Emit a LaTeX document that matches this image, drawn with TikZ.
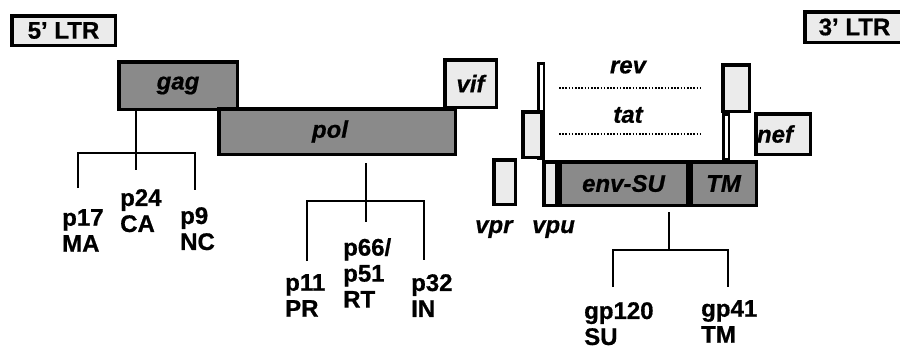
\documentclass[tikz,border=0pt]{standalone}
\usepackage{fontspec}
\setmainfont{Liberation Sans}[BoldFeatures={FakeBold=0.7},BoldItalicFeatures={FakeBold=0.7}]
\definecolor{darkfill}{HTML}{8A8A8A}
\definecolor{lightfill}{HTML}{EBEBEB}
\begin{document}
\begin{tikzpicture}[x=1pt,y=-1pt,
  gene/.style={draw=black, line width=3.5pt, inner sep=0pt,
    font=\fontsize{24}{26}\selectfont\bfseries\itshape},
  darkbox/.style={gene, fill=darkfill},
  lightbox/.style={gene, fill=lightfill},
  ltrbox/.style={gene, fill=lightfill, font=\fontsize{24}{26}\selectfont\bfseries},
  thinbox/.style={draw=black, line width=2.5pt, fill=white, inner sep=0pt},
  tree/.style={line width=2.2pt},
  prot/.style={anchor=north west, inner sep=0pt, align=left,
    font=\fontsize{24}{26}\selectfont\bfseries},
  exonlabel/.style={inner sep=0pt, font=\fontsize{24}{26}\selectfont\bfseries\itshape},
  splice/.style={line width=2.6pt, dash pattern=on 1.6pt off 1.6pt}]
\useasboundingbox (0,0) rectangle (900,349);

% LTRs
\node[ltrbox, minimum width=103.5pt, minimum height=29.5pt] (ltr5) at (63.5,30.5) {5' LTR};
\node[ltrbox, minimum width=99.5pt, minimum height=30.5pt] (ltr3) at (854.5,27) {3' LTR};

% gag, pol, vif
\node[darkbox, minimum width=118.5pt, minimum height=47.5pt] (gag) at (178,85.5) {gag};
\node[darkbox, minimum width=236.5pt, minimum height=45.5pt] (pol) at (337,131.5) {\hspace*{-14pt}pol};
\node[lightbox, minimum width=51.5pt, minimum height=47.5pt] (vif) at (470.5,83.5) {vif};

% rev / tat first exons
\node[thinbox, minimum width=5.5pt, minimum height=95.5pt] (rev1) at (541,111) {};
\node[lightbox, minimum width=18.5pt, minimum height=45.5pt] (tat1) at (532,134.5) {};

% vpr, vpu, env
\node[lightbox, minimum width=21.5pt, minimum height=44.5pt] (vpr) at (504.5,182) {};
\node[lightbox, minimum width=12.5pt, minimum height=43.5pt] (vpu) at (550,183.5) {};
\node[darkbox, minimum width=127.5pt, minimum height=43.5pt] (envsu) at (623.5,183.5) {env-SU};
\node[darkbox, minimum width=65.5pt, minimum height=43.5pt] (tm) at (723.5,183.5) {TM};

% rev / tat second exons, nef
\node[thinbox, minimum width=5.5pt, minimum height=44.5pt] (tat2) at (726,136.5) {};
\node[lightbox, minimum width=26.5pt, minimum height=46.5pt] (rev2) at (736,88) {};
\node[lightbox, minimum width=54.5pt, minimum height=40.5pt] (nef) at (783,134) {\hspace*{-16pt}nef};

% splicing labels
\node[exonlabel] (revlab) at (628,67) {rev};
\node[exonlabel] (tatlab) at (628,115) {tat};
\coordinate (revA) at (559,88);
\coordinate (revB) at (702,88);
\coordinate (tatA) at (559,134);
\coordinate (tatB) at (700,134);
\draw[splice] (revA) -- (revB);
\draw[splice] (tatA) -- (tatB);

\node[exonlabel, anchor=base west] (vprlab) at (475,233) {vpr};
\node[exonlabel, anchor=base west] (vpulab) at (532,233) {vpu};

% gag products
\coordinate (gM) at (136,170);
\coordinate (gL) at (78,153);
\coordinate (gLe) at (78,188);
\coordinate (gR) at (195,153);
\coordinate (gRe) at (195,190);
\draw[tree] (gag.south -| gM) -- (gM);
\draw[tree] (gLe) -- (gL) -- (gR) -- (gRe);
\node[prot] (p17) at (62,209) {p17\\MA};
\node[prot] (p24) at (120,189) {p24\\CA};
\node[prot] (p9) at (180,207) {p9\\NC};

% pol products
\coordinate (pT) at (366,163);
\coordinate (pM) at (366,222);
\coordinate (pL) at (307,201);
\coordinate (pLe) at (307,261);
\coordinate (pR) at (424,201);
\coordinate (pRe) at (424,260);
\draw[tree] (pT) -- (pM);
\draw[tree] (pLe) -- (pL) -- (pR) -- (pRe);
\node[prot] (p11) at (285,274) {p11\\PR};
\node[prot] (p66) at (343,238) {p66/\\p51\\RT};
\node[prot] (p32) at (411,274) {p32\\IN};

% env products
\coordinate (eT) at (669,212);
\coordinate (eM) at (669,250);
\coordinate (eL) at (613,250);
\coordinate (eLe) at (613,287);
\coordinate (eR) at (728,250);
\coordinate (eRe) at (728,287);
\draw[tree] (eT) -- (eM);
\draw[tree] (eLe) -- (eL) -- (eR) -- (eRe);
\node[prot] (gp120) at (584,302) {gp120\\SU};
\node[prot] (gp41) at (701,300) {gp41\\TM};
\end{tikzpicture}
\end{document}
